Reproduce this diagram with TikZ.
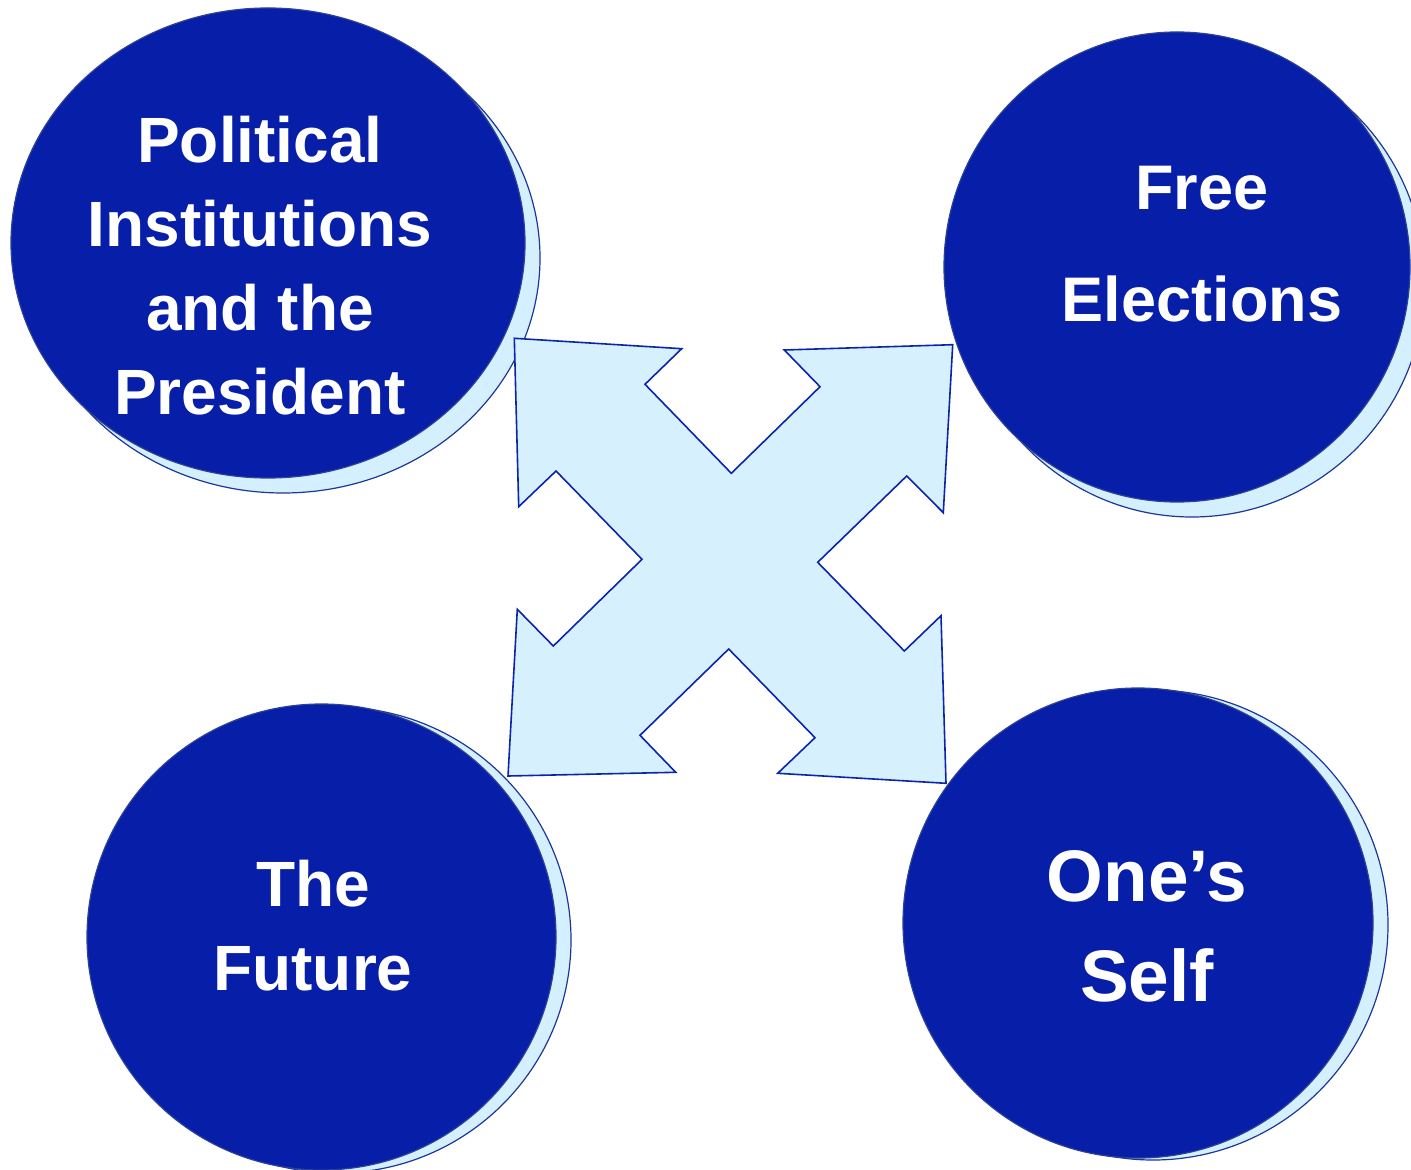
\documentclass[tikz,border=0pt]{standalone}
\usepackage{fontspec}
\setmainfont{Liberation Sans}
\usepackage{tikz}
\usetikzlibrary{shapes.geometric, positioning, calc}

\definecolor{bubbleblue}{RGB}{6,30,168}
\definecolor{bubbleline}{RGB}{45,65,150}
\definecolor{shadowblue}{RGB}{212,240,255}
\definecolor{shadowline}{RGB}{30,55,150}
\definecolor{arrowblue}{RGB}{214,240,254}
\definecolor{arrowline}{RGB}{12,36,170}

\tikzset{
    bubble/.style={ellipse, draw=bubbleline, fill=bubbleblue, line width=0.6pt, inner sep=0pt},
    bubbleshadow/.style={ellipse, draw=shadowline, fill=shadowblue, line width=0.6pt, inner sep=0pt},
    bubbletext/.style={text=white, align=center, inner sep=0pt},
    crossarrow/.style={draw=arrowline, fill=arrowblue, line width=0.8pt, line join=miter},
}

\begin{document}
\begin{tikzpicture}[x=0.5pt, y=-0.5pt]
        \useasboundingbox (0,0) rectangle (1411,1170);

        % Centres
        \coordinate (politics) at (268,243);
        \coordinate (elections) at (1177,267);
        \coordinate (future) at (321.5,937);
        \coordinate (self) at (1138,923);

        % Shadows
        \node[bubbleshadow, minimum width=257pt, minimum height=235pt] (politicsshadow) at ([shift={(15,15)}]politics) {};
        \node[bubbleshadow, minimum width=233pt, minimum height=235pt] (electionsshadow) at ([shift={(15,15)}]elections) {};
        \node[bubbleshadow, minimum width=234.5pt, minimum height=233pt] (futureshadow) at ([shift={(15,3)}]future) {};
        \node[bubbleshadow, minimum width=235pt, minimum height=235pt] (selfshadow) at ([shift={(15,2)}]self) {};

        % Bubbles
        \node[bubble, minimum width=257pt, minimum height=235pt] (politicsbubble) at (politics) {};
        \node[bubble, minimum width=233pt, minimum height=235pt] (electionsbubble) at (elections) {};
        \node[bubble, minimum width=234.5pt, minimum height=233pt] (futurebubble) at (future) {};
        \node[bubble, minimum width=235pt, minimum height=235pt] (selfbubble) at (self) {};

        % Labels
        \node[bubbletext, font=\fontsize{32}{42}\selectfont\bfseries] (politicstext) at ([shift={(-8,23)}]politics) {Political\\Institutions\\and the\\President};
        \node[bubbletext, font=\fontsize{31.5}{56}\selectfont\bfseries] (electionstext) at ([shift={(25,-23)}]elections) {Free\\Elections};
        \node[bubbletext, font=\fontsize{32}{42}\selectfont\bfseries] (futuretext) at ([shift={(-8.5,-11)}]future) {The\\Future};
        \node[bubbletext, font=\fontsize{36.5}{49.75}\selectfont\bfseries] (selftext) at ([shift={(9,3.5)}]self) {One’s\\Self};

        % Four-way arrow
        \draw[crossarrow] (514.3,338.3) -- (681.7,348.7) -- (645,384.3) -- (731.3,473.3)
            -- (820,386.7) -- (784.3,350) -- (952.7,344.7) -- (943.3,512.7)
            -- (906.7,476) -- (817.7,562.3) -- (904.3,651) -- (941,615.7)
            -- (946,783.3) -- (777.7,773.3) -- (815,737.7) -- (728.7,649)
            -- (640,735.3) -- (675.7,772.3) -- (508,776) -- (517.3,609.3)
            -- (553.3,646) -- (642,559.3) -- (556,471) -- (518.7,506.7) -- cycle;
    \end{tikzpicture}
\end{document}
